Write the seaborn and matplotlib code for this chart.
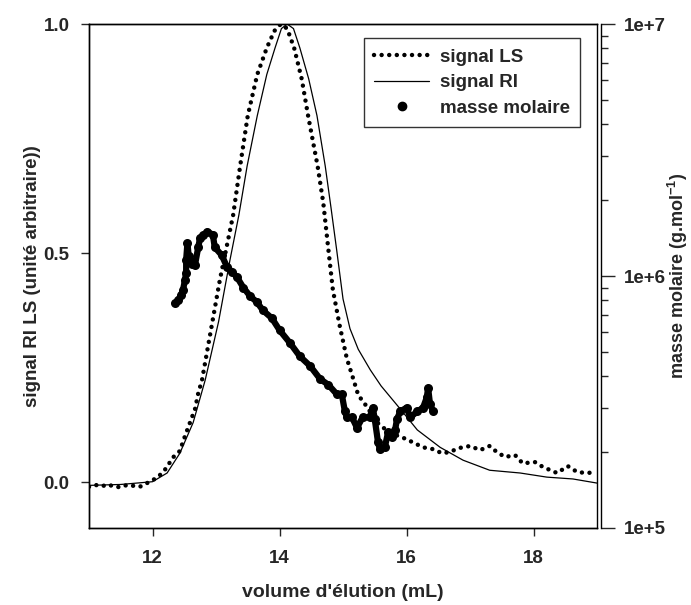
import numpy as np
import pandas as pd
import seaborn as sns
import matplotlib.pyplot as plt
from matplotlib.lines import Line2D
from matplotlib.ticker import LogLocator, FixedLocator, FuncFormatter, NullFormatter

# signal LS (diffusion de lumiere), normalise
ls_vol = [11.0, 11.1, 11.2, 11.3, 11.4, 11.5, 11.6, 11.7, 11.8, 11.9, 12.0, 12.1, 12.2,
          12.33, 12.43, 12.51, 12.59, 12.67, 12.72, 12.78, 12.92, 13.06, 13.27, 13.38,
          13.5, 13.65, 13.8, 13.92, 14.02, 14.12, 14.23, 14.35, 14.45, 14.6, 14.69,
          14.77, 14.84, 14.95, 15.06, 15.14, 15.24, 15.38, 15.53, 15.74, 15.93, 16.1,
          16.26, 16.42, 16.56, 16.69, 16.81, 17.0, 17.16, 17.31, 17.42, 17.55, 17.71,
          17.83, 18.02, 18.15, 18.37, 18.54, 18.69, 18.84, 19.0]
ls_sig = [-0.010, -0.006, -0.009, -0.005, -0.010, -0.011, -0.006, -0.008, -0.010, -0.003,
          0.004, 0.013, 0.028, 0.055, 0.068, 0.10, 0.13, 0.16, 0.194, 0.223, 0.332, 0.441,
          0.583, 0.69, 0.80, 0.89, 0.948, 0.985, 1.0, 0.99, 0.948, 0.88, 0.80, 0.69,
          0.609, 0.507, 0.42, 0.34, 0.27, 0.235, 0.19, 0.164, 0.131, 0.107, 0.098,
          0.087, 0.076, 0.072, 0.063, 0.066, 0.074, 0.079, 0.070, 0.079, 0.066, 0.055,
          0.059, 0.041, 0.044, 0.033, 0.020, 0.035, 0.022, 0.020, 0.022]

# signal RI, normalise
ri_vol = [11.0, 11.5, 12.0, 12.23, 12.43, 12.64, 12.83, 13.04, 13.22, 13.36, 13.49,
          13.65, 13.8, 13.93, 14.03, 14.12, 14.22, 14.32, 14.46, 14.59, 14.72, 14.81,
          14.9, 15.0, 15.11, 15.24, 15.43, 15.6, 15.9, 16.17, 16.53, 16.89, 17.31,
          17.79, 18.21, 18.62, 19.0]
ri_sig = [-0.007, -0.005, 0.001, 0.02, 0.063, 0.13, 0.223, 0.35, 0.485, 0.583, 0.69,
          0.80, 0.89, 0.948, 0.99, 1.0, 0.99, 0.948, 0.88, 0.80, 0.69, 0.60, 0.507,
          0.40, 0.335, 0.29, 0.245, 0.21, 0.16, 0.114, 0.076, 0.048, 0.026, 0.02,
          0.011, 0.007, -0.002]

# masse molaire (g/mol)
mm_vol = [12.35, 12.40, 12.45, 12.48, 12.51, 12.53, 12.53, 12.55, 12.57, 12.62, 12.67,
          12.72, 12.75, 12.80, 12.86, 12.95, 12.98, 13.09, 13.17, 13.25, 13.33, 13.43,
          13.54, 13.64, 13.74, 13.88, 14.00, 14.17, 14.32, 14.48, 14.64, 14.77, 14.90,
          14.98, 15.03, 15.06, 15.14, 15.22, 15.31, 15.42, 15.47, 15.50, 15.55, 15.58,
          15.66, 15.71, 15.77, 15.82, 15.85, 15.90, 16.00, 16.06, 16.17, 16.26, 16.32,
          16.34, 16.37, 16.42]
mm_val = [7.8e5, 8.0e5, 8.4e5, 8.8e5, 9.6e5, 1.03e6, 1.16e6, 1.35e6, 1.20e6, 1.12e6,
          1.11e6, 1.30e6, 1.42e6, 1.45e6, 1.50e6, 1.46e6, 1.30e6, 1.21e6, 1.09e6,
          1.04e6, 9.9e5, 9.0e5, 8.3e5, 7.9e5, 7.3e5, 6.8e5, 6.1e5, 5.4e5, 4.8e5,
          4.4e5, 3.9e5, 3.7e5, 3.4e5, 3.4e5, 2.9e5, 2.75e5, 2.75e5, 2.5e5, 2.75e5,
          2.75e5, 3.0e5, 2.7e5, 2.2e5, 2.05e5, 2.1e5, 2.4e5, 2.3e5, 2.45e5, 2.7e5,
          2.9e5, 3.0e5, 2.75e5, 2.9e5, 3.0e5, 3.3e5, 3.6e5, 3.1e5, 2.9e5]

sns.set_style("ticks")
plt.rcParams['font.family'] = ['Liberation Sans', 'DejaVu Sans']
plt.rcParams['font.weight'] = 'bold'
plt.rcParams['axes.labelweight'] = 'bold'
plt.rcParams['mathtext.fontset'] = 'custom'
plt.rcParams['mathtext.bf'] = 'Liberation Sans:bold'
plt.rcParams['mathtext.rm'] = 'Liberation Sans:bold'

FS = 13.5
ls_style = (0, (0.01, 1.7))

fig = plt.figure(figsize=(6.91, 6.05), dpi=100)
ax = fig.add_axes([0.1288, 0.1273, 0.7352, 0.8330])
ax2 = ax.twinx()

df_ls = pd.DataFrame({'vol': ls_vol, 'sig': ls_sig})
df_ri = pd.DataFrame({'vol': ri_vol, 'sig': ri_sig})
df_mm = pd.DataFrame({'vol': mm_vol, 'mm': mm_val})

sns.lineplot(data=df_ls, x='vol', y='sig', ax=ax, color='black', linewidth=3.2,
             estimator=None, sort=False)
sns.lineplot(data=df_ri, x='vol', y='sig', ax=ax, color='black', linewidth=0.9,
             estimator=None, sort=False)
ls_line = ax.lines[0]
ls_line.set_linestyle(ls_style)
ls_line.set_dash_capstyle('round')

sns.lineplot(data=df_mm, x='vol', y='mm', ax=ax2, color='black', linewidth=4.5,
             marker='o', markersize=6.5, markeredgewidth=0, estimator=None, sort=False)

ax.set_xlim(11, 19)
ax.set_ylim(-0.1, 1.0)
ax2.set_yscale('log')
ax2.set_ylim(1e5, 1e7)

ax.xaxis.set_major_locator(FixedLocator([12, 14, 16, 18]))
ax.yaxis.set_major_locator(FixedLocator([0.0, 0.5, 1.0]))
ax.yaxis.set_major_formatter(FuncFormatter(lambda v, p: f"{v:.1f}"))
ax2.yaxis.set_major_locator(FixedLocator([1e5, 1e6, 1e7]))
ax2.yaxis.set_minor_locator(LogLocator(base=10, subs=np.arange(2, 10)))
ax2.yaxis.set_major_formatter(FuncFormatter(lambda v, p: f"1e+{int(round(np.log10(v)))}"))
ax2.yaxis.set_minor_formatter(NullFormatter())

for sp in list(ax.spines.values()) + list(ax2.spines.values()):
    sp.set_linewidth(1.0)
    sp.set_color('black')
ax2.spines['right'].set_position(('outward', 3))

ax.tick_params(axis='both', direction='out', length=6, width=1, labelsize=FS, pad=8)
ax.tick_params(axis='x', pad=10)
ax2.tick_params(axis='y', which='major', direction='out', length=10, width=1,
                labelsize=FS, pad=6)
ax2.tick_params(axis='y', which='minor', direction='out', length=5, width=1)

for lab in ax.get_xticklabels() + ax.get_yticklabels() + ax2.get_yticklabels():
    lab.set_fontweight('bold')

ax.set_xlabel("volume d'élution (mL)", fontsize=FS + 0.5, fontweight='bold', labelpad=12)
ax.set_ylabel("signal RI LS (unité arbitraire))", fontsize=FS, fontweight='bold', labelpad=2)
ax2.set_ylabel("masse molaire (g.mol$^{\\mathbf{-1}}$)", fontsize=13, fontweight='bold',
               labelpad=0)

handles = [
    Line2D([], [], color='black', linewidth=3.2, linestyle=ls_style, dash_capstyle='round'),
    Line2D([], [], color='black', linewidth=0.9),
    Line2D([], [], color='black', linestyle='none', marker='o', markersize=6),
]
for a in (ax, ax2):
    if a.get_legend() is not None:
        a.get_legend().remove()
leg = ax2.legend(handles, ['signal LS', 'signal RI', 'masse molaire'],
                 loc='upper right', bbox_to_anchor=(0.967, 0.972),
                 prop={'weight': 'bold', 'size': FS}, frameon=True, fancybox=False,
                 handlelength=2.9, handletextpad=0.6, borderpad=0.55, labelspacing=0.45,
                 borderaxespad=0)
leg.get_frame().set_edgecolor('black')
leg.get_frame().set_linewidth(1.0)

fig.savefig('out.png', dpi=100)
